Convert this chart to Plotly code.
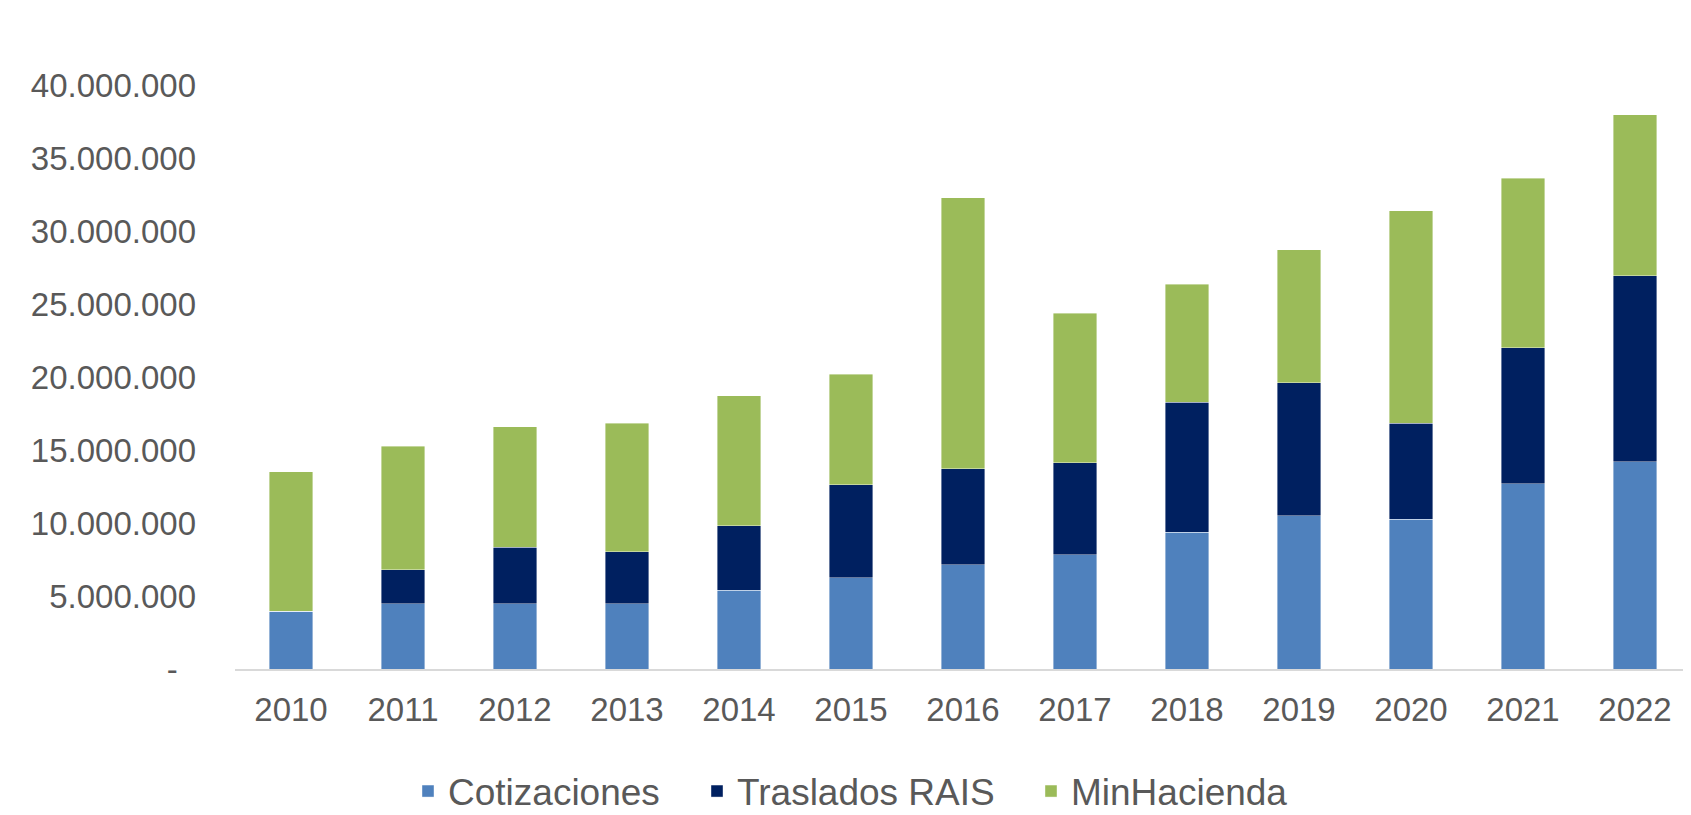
import plotly.graph_objects as go

years = ["2010", "2011", "2012", "2013", "2014", "2015", "2016",
         "2017", "2018", "2019", "2020", "2021", "2022"]
cotizaciones = [3.94e6, 4.47e6, 4.47e6, 4.47e6, 5.38e6, 6.25e6, 7.15e6,
                7.83e6, 9.38e6, 10.48e6, 10.25e6, 12.68e6, 14.20e6]
traslados_rais = [0.0, 2.33e6, 3.88e6, 3.57e6, 4.44e6, 6.36e6, 6.55e6,
                  6.31e6, 8.88e6, 9.12e6, 6.57e6, 9.32e6, 12.73e6]
minhacienda = [9.56e6, 8.46e6, 8.23e6, 8.78e6, 8.89e6, 7.57e6, 18.57e6,
               10.22e6, 8.11e6, 9.10e6, 14.56e6, 11.60e6, 11.02e6]

y_tickvals = [0, 5e6, 10e6, 15e6, 20e6, 25e6, 30e6, 35e6, 40e6]
y_ticktext = ["-\u00a0\u00a0", "5.000.000", "10.000.000", "15.000.000", "20.000.000",
              "25.000.000", "30.000.000", "35.000.000", "40.000.000"]

FONT = "Liberation Sans, Arial, sans-serif"
GREY = "#595959"

# The page body has an 8px margin; the figure starts at (8, 8) in the window.
W, H = 1675, 807

series = [("Cotizaciones", cotizaciones, "#4f81bd", "legend", 400),
          ("Traslados RAIS", traslados_rais, "#002060", "legend2", 689),
          ("MinHacienda", minhacienda, "#9bbb59", "legend3", 1023)]

fig = go.Figure()
legend_layout = {}
for name, vals, color, leg, lx in series:
    fig.add_trace(go.Bar(
        name=name, x=years, y=vals, legend=leg,
        marker=dict(color=color, line=dict(color="rgba(255,255,255,0.5)", width=0.8)),
    ))
    legend_layout[leg] = dict(
        orientation="h", xanchor="left", yanchor="middle",
        xref="container", yref="container",
        x=lx / W, y=1 - 783.5 / H,
        font=dict(family=FONT, color=GREY, size=37),
        bgcolor="rgba(0,0,0,0)",
    )

fig.update_layout(
    width=W, height=H,
    barmode="stack", bargap=0.61,
    paper_bgcolor="white", plot_bgcolor="white",
    margin=dict(l=227, r=0, t=77, b=146, pad=0, autoexpand=False),
    font=dict(family=FONT, color=GREY, size=33),
    showlegend=True,
    **legend_layout,
)
fig.update_xaxes(
    type="category", showgrid=False, zeroline=False, automargin=False,
    range=[-0.5, 12.5 - 8 / 112],
    showline=True, linecolor="#d9d9d9", linewidth=2,
    ticks="", ticklabelstandoff=10,
    tickfont=dict(family=FONT, color=GREY, size=33),
)
fig.update_yaxes(
    range=[0, 40e6], showgrid=False, zeroline=False, showline=False, automargin=False,
    tickmode="array", tickvals=y_tickvals, ticktext=y_ticktext,
    ticks="", ticklabelstandoff=38,
    tickfont=dict(family=FONT, color=GREY, size=33),
)

fig.write_html("out.html")
